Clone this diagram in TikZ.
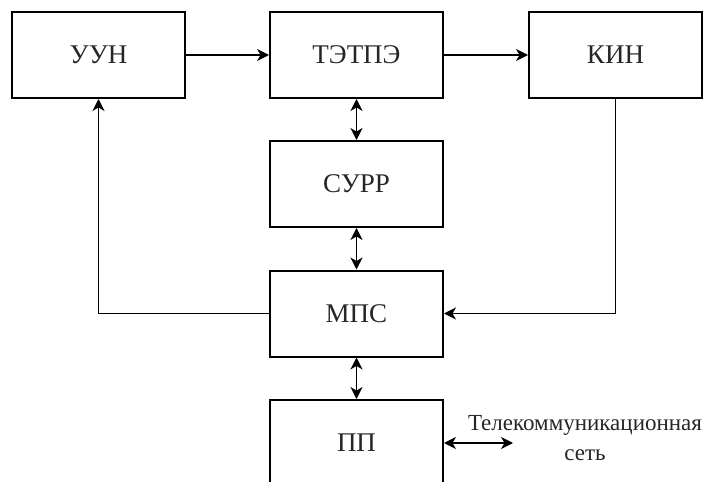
\documentclass[tikz,border=0pt]{standalone}
\usepackage{fontspec}
\setmainfont{Liberation Serif}
\usetikzlibrary{arrows.meta,positioning}

\begin{document}
\begin{tikzpicture}[x=0.5pt,y=-0.5pt]
%
% Styles
%
\tikzset{every node/.style={font=\fontsize{13.5}{15}\selectfont, text=black!85}};%
\tikzset{bloc/.style={draw=black, line width=1pt, minimum width=86.5pt, minimum height=43pt, inner sep=0pt}};%
\tikzset{fleche/.style={line width=0.7pt, -{Stealth[length=6pt,width=6pt,inset=1.8pt]}}};%
\tikzset{double fleche/.style={line width=0.7pt, {Stealth[length=6pt,width=6pt,inset=1.8pt]}-{Stealth[length=6pt,width=6pt,inset=1.8pt]}}};%

%
% Frame
%
\useasboundingbox (0,0) rectangle (703,482);%
\fill[white] (0,0) rectangle (703,482);%
\clip (0,0) rectangle (703,482);%

%
% Blocks
%
\node[bloc] (uun) at (98.5,55) {УУН};%
\node[bloc] (tetpe) at (356.5,55) {ТЭТПЭ};%
\node[bloc] (kin) at (615.5,55) {КИН};%
\node[bloc] (surr) at (356.5,184) {СУРР};%
\node[bloc] (mps) at (356.5,313.5) {МПС};%
\node[bloc] (pp) at (356.5,443) {ПП};%
\node[align=center, inner sep=0pt, font=\fontsize{11.5}{15}\selectfont] (reseau) at (585,438) {Телекоммуникационная\\сеть};%
\coordinate (reseaufin) at (513,443);%

%
% Links
%
\draw[fleche] (uun) -- (tetpe);%
\draw[fleche] (tetpe) -- (kin);%
\draw[double fleche] (tetpe) -- (surr);%
\draw[double fleche] (surr) -- (mps);%
\draw[double fleche] (mps) -- (pp);%
\draw[fleche] (mps.west) -| (uun.south);%
\draw[fleche] (kin.south) |- (mps.east);%
\draw[double fleche] (pp.east) -- (reseaufin);%
\end{tikzpicture}
\end{document}
